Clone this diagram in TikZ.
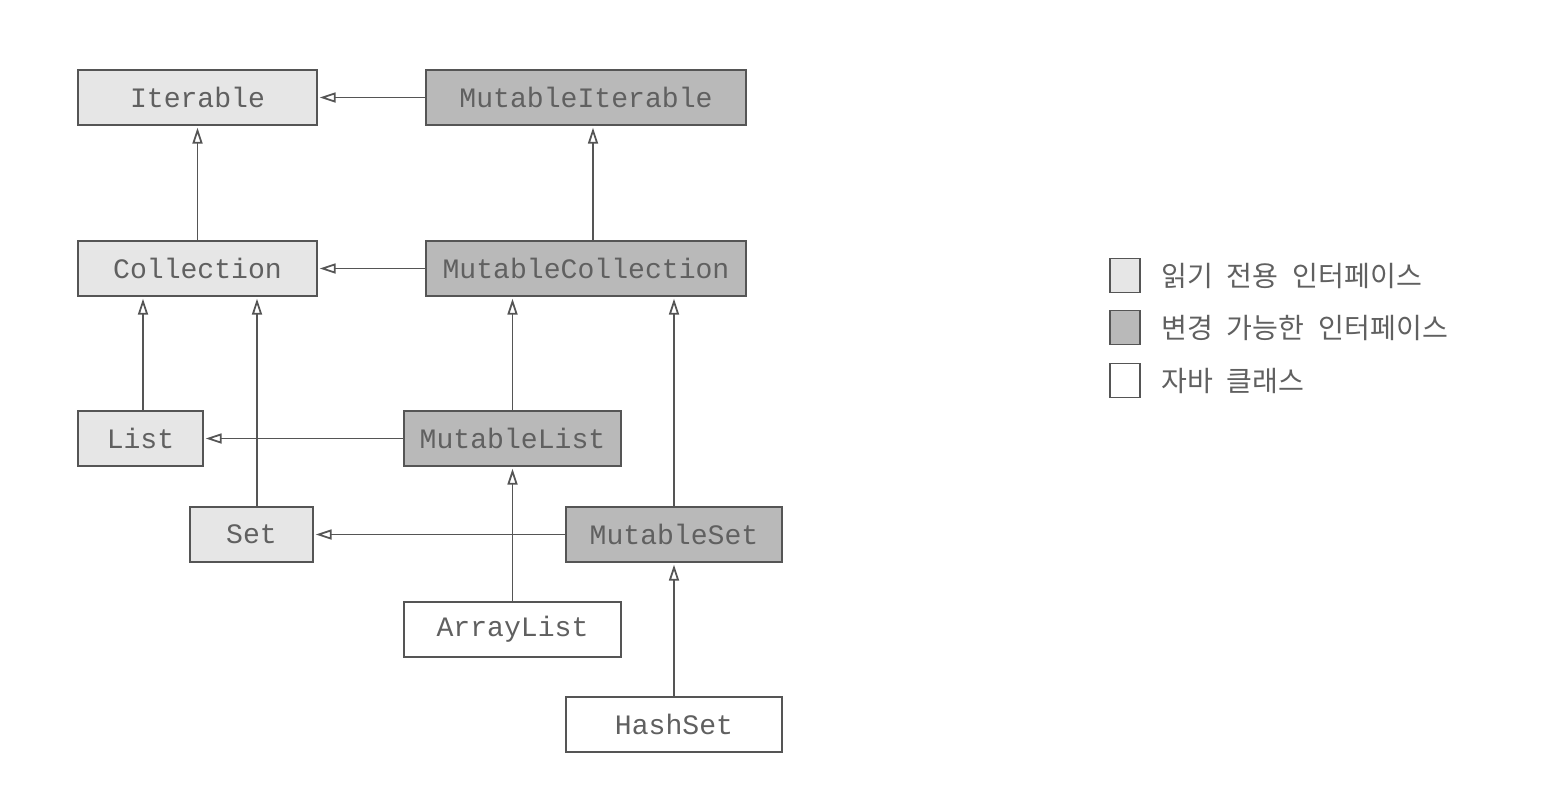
\documentclass[tikz,border=0pt]{standalone}
\usepackage{fontspec}
\setmonofont{Liberation Mono}
\newfontfamily\kofont{Noto Sans CJK KR}
\usetikzlibrary{arrows.meta,positioning}
\definecolor{inkgray}{HTML}{555555}
\definecolor{textgray}{HTML}{606060}
\definecolor{readfill}{HTML}{E6E6E6}
\definecolor{mutfill}{HTML}{B9B9B9}
\tikzset{
  box/.style={draw=inkgray, line width=1.1pt, text=textgray, minimum height=1.1cm,
    font=\ttfamily\fontsize{16}{18}\selectfont, inner sep=0pt},
  readbox/.style={box, fill=readfill},
  mutbox/.style={box, fill=mutfill},
  javabox/.style={box, fill=white},
  isa/.style={draw=inkgray, line width=1.1pt, shorten >=1pt,
    -{Triangle[open, length=0.32cm, width=0.2cm, line width=1pt]}},
  keytext/.style={text=textgray, font=\kofont\fontsize{16}{18}\selectfont,
    execute at begin node={\spaceskip=8pt\relax}, inner sep=0pt, anchor=west},
}
\begin{document}
\begin{tikzpicture}[x=0.02cm, y=-0.02cm]
  \useasboundingbox (0,0) rectangle (1554,788);

  % interfaces, read-only
  \node[readbox, minimum width=4.78cm] (iterable) at (197.5,97.5) {Iterable};
  \node[readbox, minimum width=4.78cm] (collection) at (197.5,268.5) {Collection};
  \node[readbox, minimum width=2.5cm] (list) at (140.5,438.5) {List};
  \node[readbox, minimum width=2.46cm] (set) at (251.5,534.5) {Set};

  % interfaces, mutable
  \node[mutbox, minimum width=6.4cm] (mutiterable) at (586,97.5) {MutableIterable};
  \node[mutbox, minimum width=6.4cm] (mutcollection) at (586,268.5) {MutableCollection};
  \node[mutbox, minimum width=4.34cm] (mutlist) at (512.5,438.5) {MutableList};
  \node[mutbox, minimum width=4.32cm] (mutset) at (674,534.5) {MutableSet};

  % java classes
  \node[javabox, minimum width=4.34cm] (arraylist) at (512.5,629.5) {ArrayList};
  \node[javabox, minimum width=4.32cm] (hashset) at (674,724.5) {HashSet};

  % inheritance
  \draw[isa] (mutiterable) -- (iterable);
  \draw[isa] (collection) -- (iterable);
  \draw[isa] ([xshift=0.14cm]mutcollection.north) -- ([xshift=0.14cm]mutiterable.south);
  \draw[isa] (mutcollection) -- (collection);
  \draw[isa] ([xshift=0.05cm]list.north) -- ([xshift=0.05cm]list.north |- collection.south);
  \draw[isa] ([xshift=0.11cm]set.north) -- ([xshift=0.11cm]set.north |- collection.south);
  \draw[isa] (mutlist) -- (mutlist.north |- mutcollection.south);
  \draw[isa] (mutset) -- (mutset.north |- mutcollection.south);
  \draw[isa] (mutlist) -- (list);
  \draw[isa] (mutset) -- (set);
  \draw[isa] (arraylist) -- (mutlist);
  \draw[isa] (hashset) -- (mutset);

  % key
  \node[readbox, minimum width=0.6cm, minimum height=0.68cm, line width=0.9pt] (keyread) at (1125,275.5) {};
  \node[mutbox, minimum width=0.6cm, minimum height=0.68cm, line width=0.9pt] (keymut) at (1125,327.5) {};
  \node[javabox, minimum width=0.6cm, minimum height=0.68cm, line width=0.9pt] (keyjava) at (1125,380.5) {};
  \node[keytext, right=0.4cm of keyread] (keyreadtext) {읽기 전용 인터페이스};
  \node[keytext, right=0.4cm of keymut] (keymuttext) {변경 가능한 인터페이스};
  \node[keytext, right=0.4cm of keyjava] (keyjavatext) {자바 클래스};
\end{tikzpicture}
\end{document}
